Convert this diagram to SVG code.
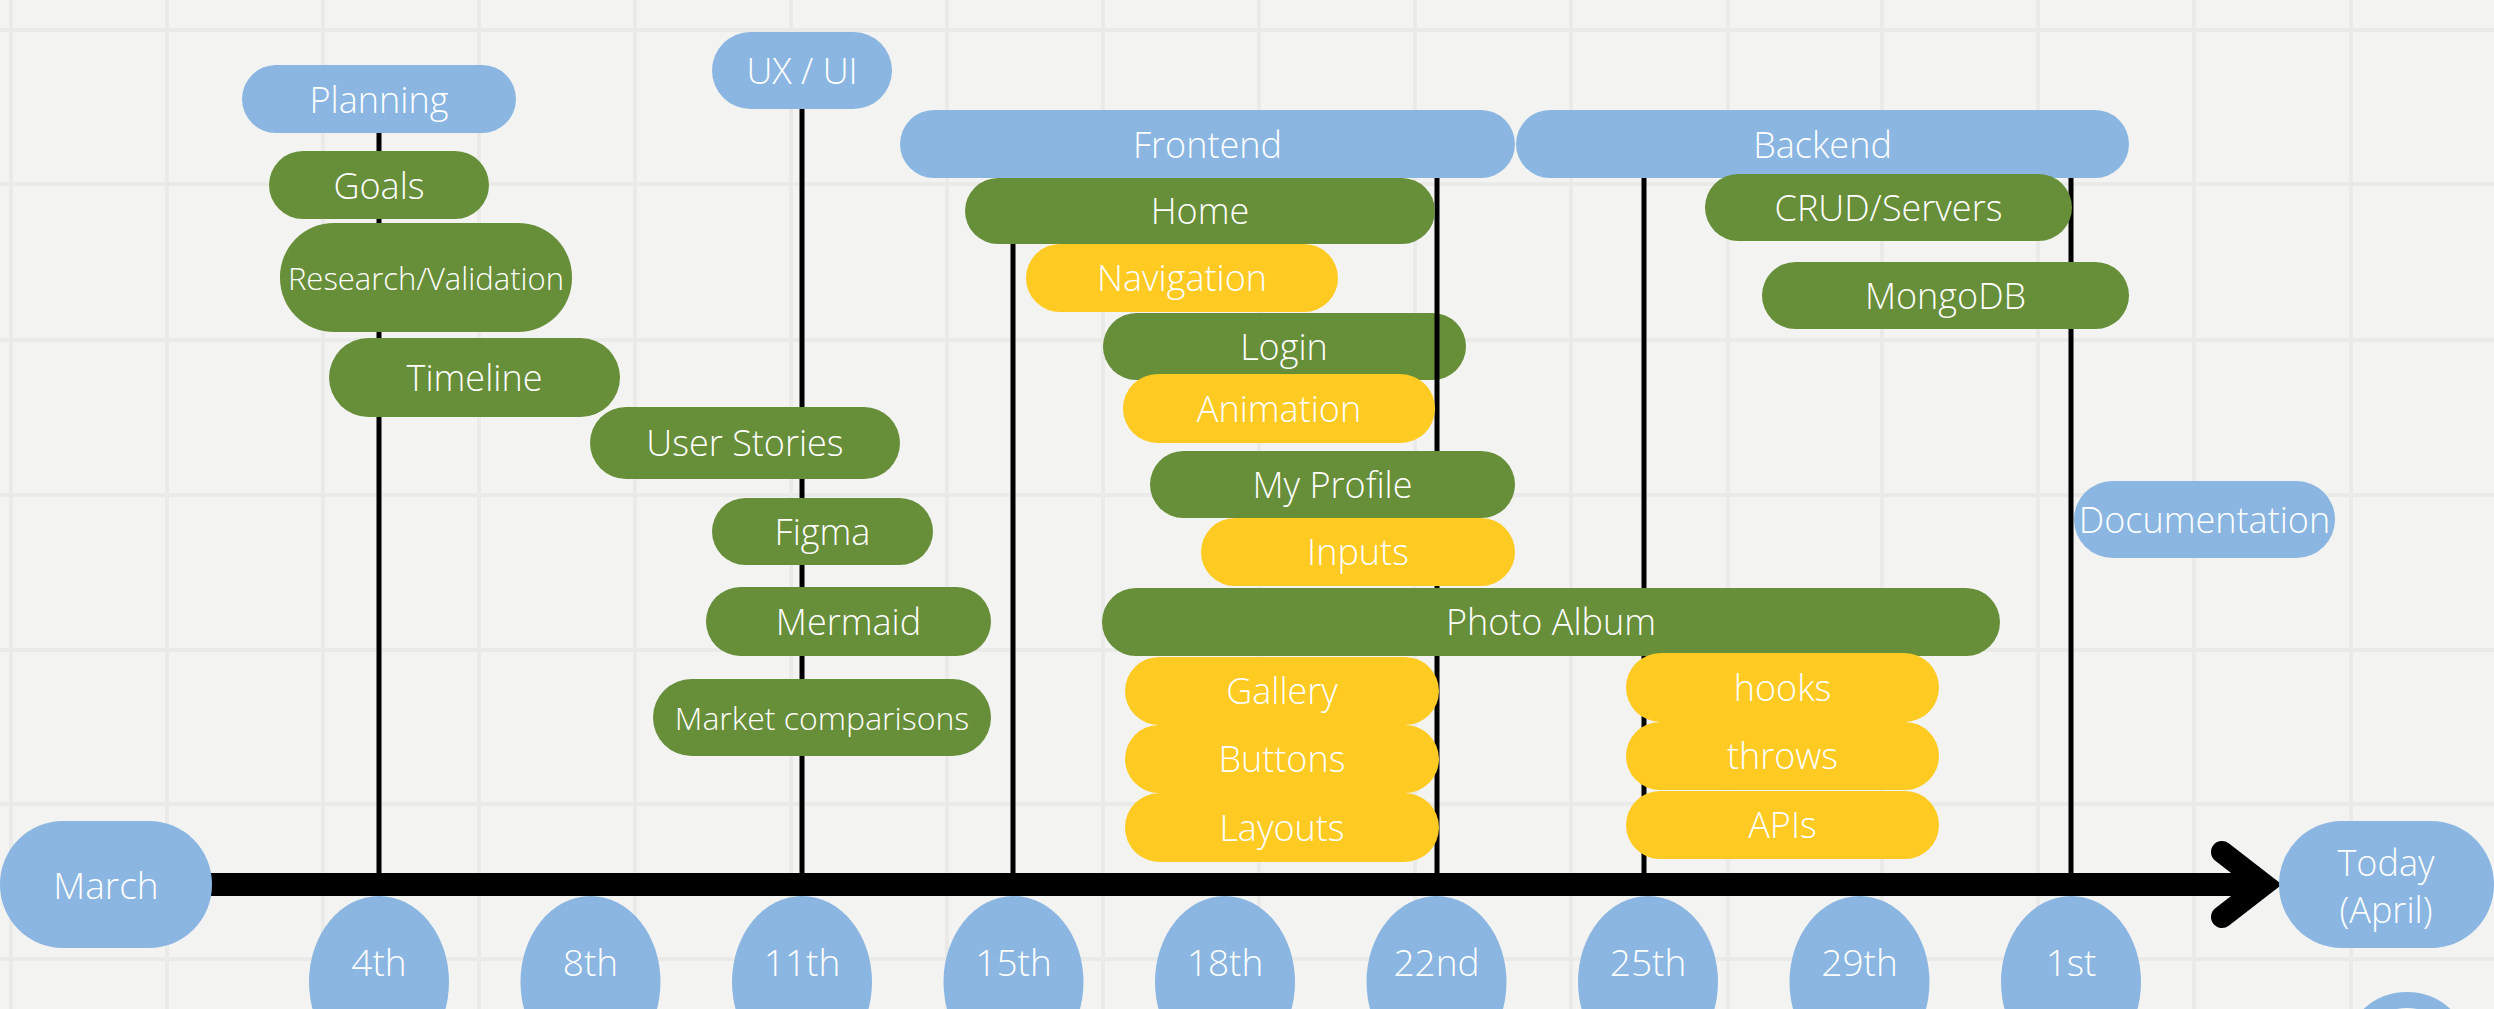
<svg xmlns="http://www.w3.org/2000/svg" width="2494" height="1009" viewBox="0 0 2494 1009">
<defs>
<style>
.bg{fill:#f3f3f2}
.grid line{stroke:#eaeae8;stroke-width:4}
.b{fill:#8ab6e1}
.g{fill:#678e39}
.y{fill:#ffca22}
.t{fill:#ffffff;font-family:"Open Sans","Liberation Sans",sans-serif;font-weight:300;font-size:36px;text-anchor:middle}
.conn line{stroke:#000;stroke-width:5}
</style>
</defs>
<rect class="bg" x="0" y="0" width="2494" height="1009"/>
<g class="grid">
<line x1="11" y1="0" x2="11" y2="1009"/><line x1="167" y1="0" x2="167" y2="1009"/><line x1="323" y1="0" x2="323" y2="1009"/><line x1="479" y1="0" x2="479" y2="1009"/><line x1="635" y1="0" x2="635" y2="1009"/><line x1="791" y1="0" x2="791" y2="1009"/><line x1="947" y1="0" x2="947" y2="1009"/><line x1="1103" y1="0" x2="1103" y2="1009"/><line x1="1259" y1="0" x2="1259" y2="1009"/><line x1="1415" y1="0" x2="1415" y2="1009"/><line x1="1571" y1="0" x2="1571" y2="1009"/><line x1="1728" y1="0" x2="1728" y2="1009"/><line x1="1882" y1="0" x2="1882" y2="1009"/><line x1="2038" y1="0" x2="2038" y2="1009"/><line x1="2194" y1="0" x2="2194" y2="1009"/><line x1="2351" y1="0" x2="2351" y2="1009"/>
<line x1="0" y1="30" x2="2494" y2="30"/><line x1="0" y1="184" x2="2494" y2="184"/><line x1="0" y1="340" x2="2494" y2="340"/><line x1="0" y1="495" x2="2494" y2="495"/><line x1="0" y1="650" x2="2494" y2="650"/><line x1="0" y1="804" x2="2494" y2="804"/><line x1="0" y1="959" x2="2494" y2="959"/>
</g>

<g id="login"><rect class="g" x="1103" y="313" width="363" height="67" rx="33.5"/><text class="t" x="1284" y="360">Login</text></g>

<g id="connectors" class="conn">
<line x1="379" y1="130" x2="379" y2="876"/>
<line x1="802" y1="105" x2="802" y2="876"/>
<line x1="1013" y1="175" x2="1013" y2="876"/>
<line x1="1437" y1="175" x2="1437" y2="876"/>
<line x1="1644" y1="175" x2="1644" y2="876"/>
<line x1="2071" y1="175" x2="2071" y2="876"/>
<line x1="205" y1="884.5" x2="2262" y2="884.5" style="stroke-width:23"/>
<path d="M2222,852 L2264,884.5 L2222,917" fill="none" stroke="#000" stroke-width="22" stroke-linecap="round" stroke-linejoin="miter"/>
</g>

<g id="planning"><rect class="b" x="242" y="65" width="274" height="68" rx="34"/><text class="t" x="379" y="113">Planning</text></g>
<g id="uxui"><rect class="b" x="712" y="32" width="180" height="77" rx="38.5"/><text class="t" x="802" y="84">UX / UI</text></g>
<g id="goals"><rect class="g" x="269" y="151" width="220" height="68" rx="34"/><text class="t" x="379" y="199">Goals</text></g>
<g id="research"><rect class="g" x="280" y="223" width="292" height="109" rx="54"/><text class="t" x="426" y="290" style="font-size:31px">Research/Validation</text></g>
<g id="timeline"><rect class="g" x="329" y="338" width="291" height="79" rx="39.5"/><text class="t" x="474.5" y="391">Timeline</text></g>
<g id="userstories"><rect class="g" x="590" y="407" width="310" height="72" rx="36"/><text class="t" x="745" y="456">User Stories</text></g>
<g id="figma"><rect class="g" x="712" y="498" width="221" height="67" rx="33.5"/><text class="t" x="822.5" y="545">Figma</text></g>
<g id="mermaid"><rect class="g" x="706" y="587" width="285" height="69" rx="34.5"/><text class="t" x="848.5" y="635">Mermaid</text></g>
<g id="market"><rect class="g" x="653" y="679" width="338" height="77" rx="38.5"/><text class="t" x="822" y="730" style="font-size:32px">Market comparisons</text></g>

<g id="frontend"><rect class="b" x="900" y="110" width="615" height="68" rx="34"/><text class="t" x="1207.5" y="158">Frontend</text></g>
<g id="backend"><rect class="b" x="1516" y="110" width="613" height="68" rx="34"/><text class="t" x="1822.5" y="158">Backend</text></g>
<g id="home"><rect class="g" x="965" y="178" width="470" height="66" rx="33"/><text class="t" x="1200" y="224">Home</text></g>
<g id="navigation"><rect class="y" x="1026" y="244" width="312" height="68" rx="34"/><text class="t" x="1182" y="291">Navigation</text></g>
<g id="animation"><rect class="y" x="1123" y="374" width="312" height="69" rx="34.5"/><text class="t" x="1279" y="422">Animation</text></g>
<g id="myprofile"><rect class="g" x="1150" y="451" width="365" height="67" rx="33.5"/><text class="t" x="1332.5" y="498">My Profile</text></g>
<g id="inputs"><rect class="y" x="1201" y="518" width="314" height="68" rx="34"/><text class="t" x="1358" y="565">Inputs</text></g>
<g id="photoalbum"><rect class="g" x="1102" y="588" width="898" height="68" rx="34"/><text class="t" x="1551" y="635">Photo Album</text></g>
<g id="gallery"><rect class="y" x="1125" y="657" width="314" height="68" rx="34"/><text class="t" x="1282" y="704">Gallery</text></g>
<g id="buttons"><rect class="y" x="1125" y="725" width="314" height="68" rx="34"/><text class="t" x="1282" y="772">Buttons</text></g>
<g id="layouts"><rect class="y" x="1125" y="793" width="314" height="69" rx="34.5"/><text class="t" x="1282" y="840.5">Layouts</text></g>
<g id="crud"><rect class="g" x="1705" y="174" width="367" height="67" rx="33.5"/><text class="t" x="1888.5" y="221">CRUD/Servers</text></g>
<g id="mongodb"><rect class="g" x="1762" y="262" width="367" height="67" rx="33.5"/><text class="t" x="1945.5" y="308.5">MongoDB</text></g>
<g id="hooks"><rect class="y" x="1626" y="653" width="313" height="69" rx="34.5"/><text class="t" x="1782.5" y="700.5">hooks</text></g>
<g id="throws"><rect class="y" x="1626" y="722" width="313" height="68" rx="34"/><text class="t" x="1782.5" y="769">throws</text></g>
<g id="apis"><rect class="y" x="1626" y="791" width="313" height="68" rx="34"/><text class="t" x="1782.5" y="838">APIs</text></g>
<g id="documentation"><rect class="b" x="2074" y="481" width="261" height="77" rx="38.5"/><text class="t" x="2204.5" y="532.5">Documentation</text></g>

<g id="march"><rect class="b" x="0" y="821" width="212" height="127" rx="63"/><text class="t" x="106" y="898.5" style="font-size:37px">March</text></g>
<g id="today"><rect class="b" x="2279" y="821" width="215" height="127" rx="63"/><text class="t" x="2386" y="875.5">Today</text><text class="t" x="2386" y="922.5">(April)</text></g>

<g id="d4"><ellipse class="b" cx="379" cy="982" rx="70" ry="86"/><text class="t" x="379" y="975.5" style="font-size:37px">4th</text></g>
<g id="d8"><ellipse class="b" cx="590.5" cy="982" rx="70" ry="86"/><text class="t" x="590.5" y="975.5" style="font-size:37px">8th</text></g>
<g id="d11"><ellipse class="b" cx="802" cy="982" rx="70" ry="86"/><text class="t" x="802" y="975.5" style="font-size:37px">11th</text></g>
<g id="d15"><ellipse class="b" cx="1013.5" cy="982" rx="70" ry="86"/><text class="t" x="1013.5" y="975.5" style="font-size:37px">15th</text></g>
<g id="d18"><ellipse class="b" cx="1225" cy="982" rx="70" ry="86"/><text class="t" x="1225" y="975.5" style="font-size:37px">18th</text></g>
<g id="d22"><ellipse class="b" cx="1436.5" cy="982" rx="70" ry="86"/><text class="t" x="1436.5" y="975.5" style="font-size:37px">22nd</text></g>
<g id="d25"><ellipse class="b" cx="1648" cy="982" rx="70" ry="86"/><text class="t" x="1648" y="975.5" style="font-size:37px">25th</text></g>
<g id="d29"><ellipse class="b" cx="1859.5" cy="982" rx="70" ry="86"/><text class="t" x="1859.5" y="975.5" style="font-size:37px">29th</text></g>
<g id="d1"><ellipse class="b" cx="2071" cy="982" rx="70" ry="86"/><text class="t" x="2071" y="975.5" style="font-size:37px">1st</text></g>

<circle cx="2407" cy="1056" r="56" fill="none" stroke="#8ab6e1" stroke-width="16"/>
</svg>
